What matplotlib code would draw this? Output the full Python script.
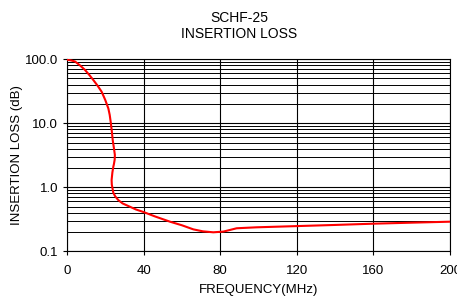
import matplotlib.pyplot as plt
from matplotlib.ticker import FixedLocator, LogLocator, NullFormatter

plt.rcParams["font.family"] = ["Liberation Sans", "DejaVu Sans"]

# insertion loss curve (the knee near 24 MHz folds back)
freq_mhz = [0, 2.0, 4.2, 6.8, 9.4, 11.6, 13.7, 16.0, 18.1, 20.0, 21.6, 22.3,
            22.8, 23.4, 23.9, 24.5, 25.0, 24.9, 24.5, 24.2, 23.7, 23.3, 23.4,
            23.8, 24.2, 25.2, 26.8, 29.0, 32.0, 36.0, 40.0, 46.0, 53.8, 60.0,
            66.0, 71.0, 76.4, 81.6, 85.0, 88.6, 99.0, 113.0, 140.0, 160.0,
            180.0, 200.0]
loss_db = [98, 96, 92, 80, 68, 57, 47.5, 38.5, 31, 23, 17, 13.5,
           10.6, 7.5, 5.4, 4.1, 3.2, 2.7, 2.3, 2.1, 1.7, 1.3, 1.1,
           0.95, 0.82, 0.72, 0.63, 0.56, 0.51, 0.45, 0.41, 0.35, 0.29, 0.255,
           0.22, 0.205, 0.198, 0.203, 0.215, 0.229, 0.237, 0.244, 0.258, 0.27,
           0.28, 0.29]

x_ticks = [0, 40, 80, 120, 160, 200]
y_ticks = [0.1, 1.0, 10.0, 100.0]
y_labels = ["0.1", "1.0", "10.0", "100.0"]

fig = plt.figure(figsize=(4.57, 2.96), dpi=100)
ax = fig.add_axes([0.1466, 0.151, 0.838, 0.649])

ax.plot(freq_mhz, loss_db, color="red", linewidth=1.5, zorder=3,
        solid_joinstyle="round")

ax.set_yscale("log")
ax.set_xlim(0, 200)
ax.set_ylim(0.1, 100)

ax.xaxis.set_major_locator(FixedLocator(x_ticks))
ax.yaxis.set_major_locator(FixedLocator(y_ticks))
ax.set_yticklabels(y_labels)
ax.yaxis.set_minor_locator(LogLocator(base=10, subs=range(2, 10)))
ax.yaxis.set_minor_formatter(NullFormatter())

ax.grid(which="major", axis="both", color="black", linewidth=0.8)
ax.grid(which="minor", axis="y", color="black", linewidth=0.7)
ax.tick_params(which="major", direction="out", length=3, width=0.8,
               labelsize=9.5, colors="black")
ax.tick_params(which="minor", length=0)
ax.tick_params(axis="x", pad=7)
ax.tick_params(axis="y", pad=3.5)

for side in ["left", "bottom", "top", "right"]:
    ax.spines[side].set_color("black")
    ax.spines[side].set_linewidth(0.8)

ax.set_xlabel("FREQUENCY(MHz)", fontsize=9.5, labelpad=5)
ax.set_ylabel("INSERTION LOSS (dB)", fontsize=9.5, labelpad=1)
ax.set_title("SCHF-25\nINSERTION LOSS", fontsize=10, pad=15, linespacing=1.2,
             x=0.45)

fig.savefig("out.png", dpi=100)
